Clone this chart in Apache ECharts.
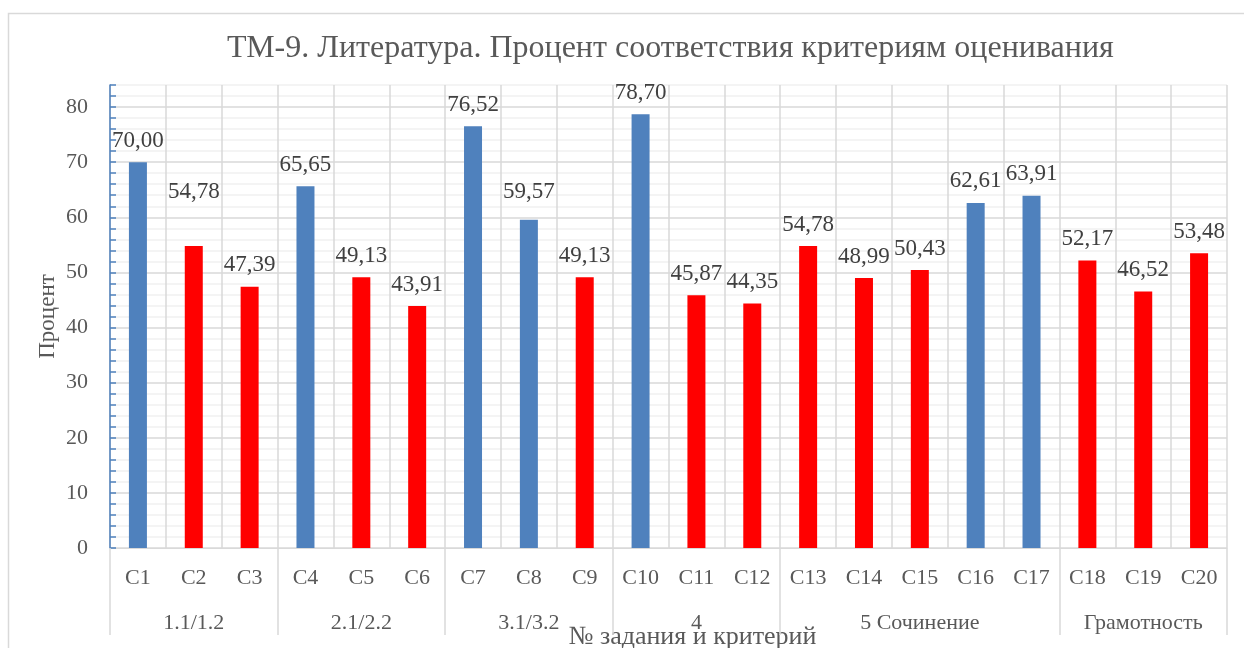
<!DOCTYPE html>
<html lang="ru">
<head>
<meta charset="UTF-8">
<title>ТМ-9. Литература</title>
<style>
    html, body { margin: 0; padding: 0; background: #fff; }
    #chart { width: 1244px; height: 648px; }
</style>
</head>
<body>
<div id="chart"></div>
<script src="https://cdn.jsdelivr.net/npm/echarts@6/dist/echarts.min.js"></script>
<script>
    // данные
    var criteria = ['С1', 'С2', 'С3', 'С4', 'С5', 'С6', 'С7', 'С8', 'С9', 'С10',
        'С11', 'С12', 'С13', 'С14', 'С15', 'С16', 'С17', 'С18', 'С19', 'С20'];
    var percent = [70.00, 54.78, 47.39, 65.65, 49.13, 43.91, 76.52, 59.57, 49.13, 78.70,
        45.87, 44.35, 54.78, 48.99, 50.43, 62.61, 63.91, 52.17, 46.52, 53.48];
    var groups = ['1.1/1.2', '2.1/2.2', '3.1/3.2', '4', '5 Сочинение', 'Грамотность'];
    var groupSizes = [3, 3, 3, 3, 5, 3];
    var yTicks = [0, 10, 20, 30, 40, 50, 60, 70, 80];

    var BLUE = '#4f81bd', RED = '#ff0000', TEXT = '#595959', GRID = '#d9d9d9';
    var FONT = '"Liberation Serif", "Times New Roman", serif';

    // границы и центры групп на нижней оси
    var bounds = [0], centers = [], centerName = {};
    groupSizes.forEach(function (n, i) {
        var start = bounds[bounds.length - 1];
        bounds.push(start + n);
        centers.push(start + n / 2);
        centerName[start + n / 2] = groups[i];
    });

    // подпись С2 в оригинале поднята выше остальных
    var labelLift = { 1: 33, 7: 6 };

    var chart = echarts.init(document.getElementById('chart'));
    chart.setOption({
        animation: false,
        textStyle: { fontFamily: FONT },
        title: {
            text: 'ТМ-9. Литература. Процент соответствия критериям оценивания',
            left: 222,
            top: 28,
            textStyle: { fontFamily: FONT, fontSize: 32, fontWeight: 'normal', color: TEXT }
        },
        graphic: [{
            type: 'rect',
            shape: { x: 8.5, y: 13.5, width: 1260, height: 700 },
            style: { fill: 'none', stroke: GRID, lineWidth: 1.5 },
            z: -1
        }],
        grid: { left: 110, right: 17, top: 85, bottom: 100, outerBoundsMode: 'none' },
        xAxis: [{
            type: 'category',
            data: criteria,
            boundaryGap: true,
            axisLine: { lineStyle: { color: GRID } },
            axisTick: { show: false },
            axisLabel: { interval: 0, fontSize: 22, color: TEXT, margin: 19, fontFamily: FONT },
            splitLine: { show: true, interval: 0, lineStyle: { color: GRID, width: 1.5 } }
        }, {
            type: 'value',
            position: 'bottom',
            min: 0,
            max: criteria.length,
            axisLine: { show: false },
            axisTick: { show: true, customValues: bounds, length: 87, lineStyle: { color: GRID, width: 1.5 } },
            axisLabel: {
                customValues: centers,
                fontSize: 22, color: TEXT, margin: 64, fontFamily: FONT,
                formatter: function (v) { return centerName[v] || ''; }
            },
            splitLine: { show: false },
            name: '№ задания и критерий',
            nameLocation: 'middle',
            nameGap: 76,
            nameMoveOverlap: false,
            nameTextStyle: { fontSize: 26, color: TEXT, fontFamily: FONT, padding: [0, 0, 0, 48] }
        }],
        yAxis: {
            type: 'value',
            min: 0,
            max: 84,
            interval: 2,
            name: 'Процент',
            nameLocation: 'middle',
            nameGap: 51,
            nameMoveOverlap: false,
            nameTextStyle: { fontSize: 23, color: TEXT, fontFamily: FONT },
            axisLine: { show: true, lineStyle: { color: BLUE, width: 1.5 } },
            axisTick: { show: true, inside: true, length: 6, lineStyle: { color: BLUE, width: 1.5 } },
            axisLabel: {
                fontSize: 22, color: TEXT, margin: 22, fontFamily: FONT,
                formatter: function (v) { return yTicks.indexOf(v) >= 0 ? String(v) : ''; }
            },
            splitLine: {
                show: true,
                lineStyle: { color: [GRID, '#f0f0f0', '#f0f0f0', '#f0f0f0', '#f0f0f0'], width: 1.5 }
            }
        },
        series: [{
            type: 'bar',
            barWidth: 18,
            data: percent.map(function (v, i) {
                var item = { value: v, itemStyle: { color: v >= 55 ? BLUE : RED } };
                if (labelLift[i]) item.label = { distance: 10 + labelLift[i] };
                return item;
            }),
            label: {
                show: true,
                position: 'top',
                distance: 10,
                fontSize: 23,
                color: '#404040',
                fontFamily: FONT,
                formatter: function (p) { return p.value.toFixed(2).replace('.', ','); }
            }
        }]
    });
</script>
</body>
</html>
